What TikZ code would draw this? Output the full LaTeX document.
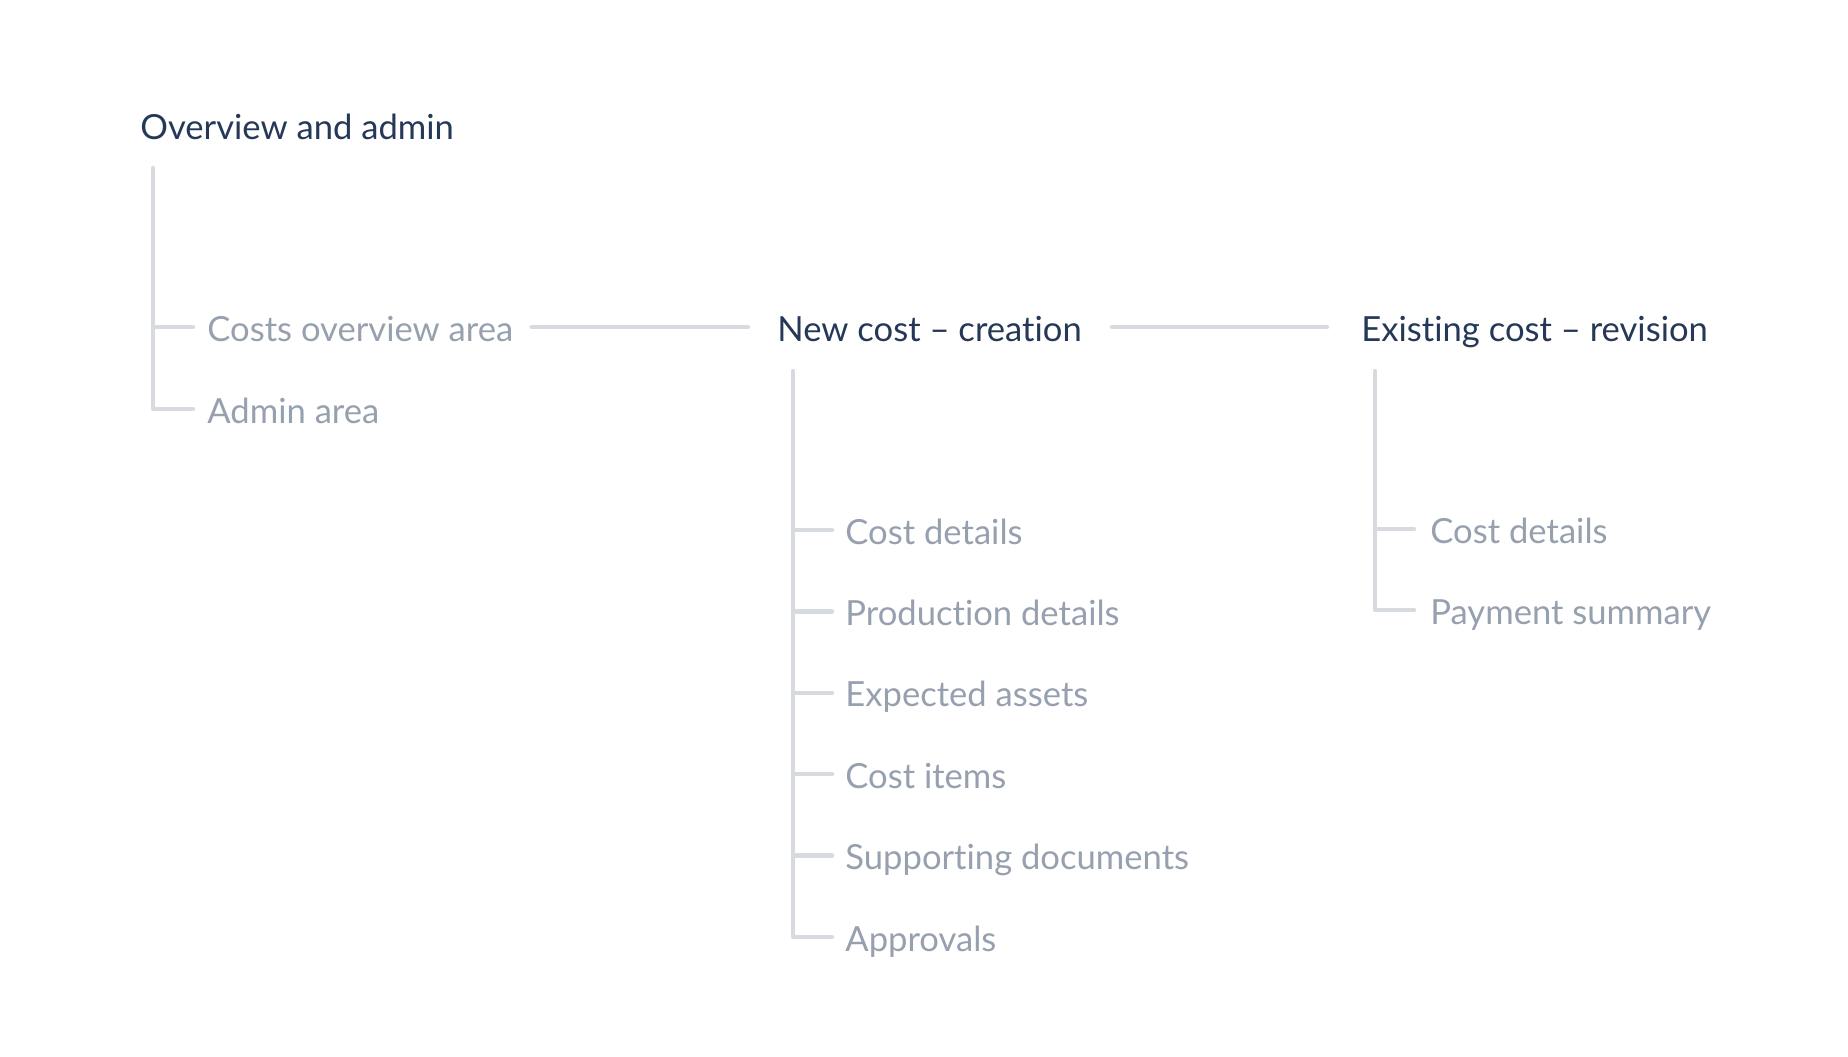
\documentclass[tikz,border=0pt]{standalone}
\usepackage{fontspec}
\setmainfont{Lato}[Ligatures={TeX,CommonOff}]
\definecolor{headtext}{HTML}{253858}
\definecolor{subtext}{HTML}{97A0AF}
\definecolor{treegray}{HTML}{D7DBE0}

\begin{document}
\begin{tikzpicture}[x=0.5pt,y=-0.5pt,
headnode/.style={anchor=west, inner sep=0pt, text height=14pt, text depth=0pt, font=\fontsize{17.3}{20}\selectfont, text=headtext},
subnode/.style={headnode, text=subtext},
branchline/.style={draw=treegray, line width=2.25pt, line cap=round, line join=round}
]
    \useasboundingbox (0,0) rectangle (1848,1056);

    \node[headnode] (ov) at (140,125){Overview and admin};
    \node[subnode] (cov) at (207,327){Costs overview area};
    \node[subnode] (adm) at (207,409){Admin area};

    \node[headnode] (new) at (777,327){New cost – creation};
    \node[headnode] (ex) at (1361,327){Existing cost – revision};

    \foreach \name/\txt [count=\i from 0] in {ncd/Cost details, npd/Production details, nea/Expected assets, nci/Cost items, nsd/Supporting documents, napr/Approvals}
        \node[subnode] (\name) at (845,530+81.4*\i){\txt};

    \node[subnode] (ecd) at (1430,529){Cost details};
    \node[subnode] (eps) at (1430,610){Payment summary};

    \coordinate (ovroot) at ([xshift=6.5pt,yshift=-21.5pt]ov.west);
    \coordinate (newroot) at ([xshift=8pt,yshift=-22pt]new.west);
    \coordinate (exroot) at ([xshift=7pt,yshift=-22pt]ex.west);

    \draw[branchline] (ovroot) |- ([xshift=-7pt]adm.west);
    \draw[branchline] (ovroot |- cov.west) -- ([xshift=-7pt]cov.west);

    \draw[branchline] ([xshift=9pt]cov.east) -- ([xshift=-14.5pt]new.west);
    \draw[branchline] ([xshift=15pt]new.east) -- ([xshift=-17pt]ex.west);

    \draw[branchline] (newroot) |- ([xshift=-6.5pt]napr.west);
    \foreach \name in {ncd,npd,nea,nci,nsd}
        \draw[branchline] (newroot |- \name.west) -- ([xshift=-6.5pt]\name.west);

    \draw[branchline] (exroot) |- ([xshift=-8pt]eps.west);
    \draw[branchline] (exroot |- ecd.west) -- ([xshift=-8pt]ecd.west);
\end{tikzpicture}
\end{document}
